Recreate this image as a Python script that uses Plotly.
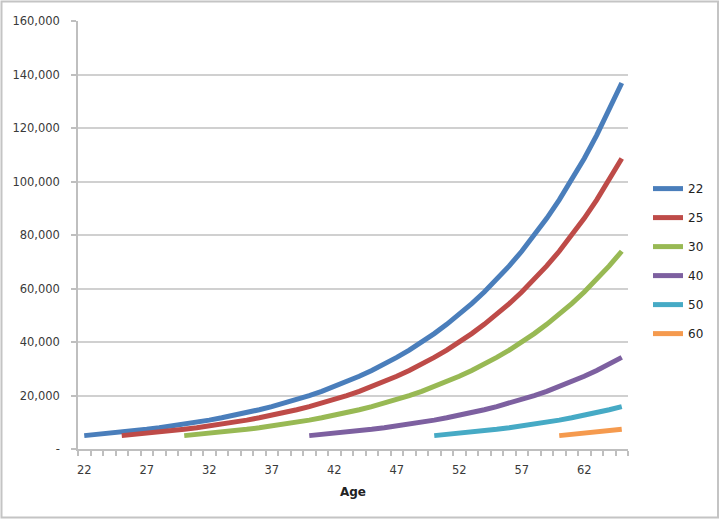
import plotly.graph_objects as go

AGES = [22, 23, 24, 25, 26, 27, 28, 29, 30, 31, 32, 33, 34, 35, 36, 37, 38, 39, 40, 41, 42, 43,
        44, 45, 46, 47, 48, 49, 50, 51, 52, 53, 54, 55, 56, 57, 58, 59, 60, 61, 62, 63, 64, 65]

START_22 = [5000, 5400, 5832, 6299, 6802, 7347, 7934, 8569, 9255, 9995, 10795, 11658, 12591,
            13598, 14686, 15861, 17130, 18500, 19980, 21579, 23305, 25169, 27183, 29357, 31706,
            34242, 36982, 39940, 43136, 46586, 50313, 54338, 58685, 63380, 68451, 73927, 79841,
            86228, 93126, 100576, 108623, 117312, 126697, 136833]
START_25 = [5000, 5400, 5832, 6299, 6802, 7347, 7934, 8569, 9255, 9995, 10795, 11658, 12591,
            13598, 14686, 15861, 17130, 18500, 19980, 21579, 23305, 25169, 27183, 29357, 31706,
            34242, 36982, 39940, 43136, 46586, 50313, 54338, 58685, 63380, 68451, 73927, 79841,
            86228, 93126, 100576, 108623]
START_30 = [5000, 5400, 5832, 6299, 6802, 7347, 7934, 8569, 9255, 9995, 10795, 11658, 12591,
            13598, 14686, 15861, 17130, 18500, 19980, 21579, 23305, 25169, 27183, 29357, 31706,
            34242, 36982, 39940, 43136, 46586, 50313, 54338, 58685, 63380, 68451, 73927]
START_40 = [5000, 5400, 5832, 6299, 6802, 7347, 7934, 8569, 9255, 9995, 10795, 11658, 12591,
            13598, 14686, 15861, 17130, 18500, 19980, 21579, 23305, 25169, 27183, 29357, 31706,
            34242]
START_50 = [5000, 5400, 5832, 6299, 6802, 7347, 7934, 8569, 9255, 9995, 10795, 11658, 12591,
            13598, 14686, 15861]
START_60 = [5000, 5400, 5832, 6299, 6802, 7347]

SERIES = [("22", 22, START_22, "#4A7EBB"),
          ("25", 25, START_25, "#BE4B48"),
          ("30", 30, START_30, "#98B954"),
          ("40", 40, START_40, "#7D60A0"),
          ("50", 50, START_50, "#46AAC5"),
          ("60", 60, START_60, "#F59A4E")]

X_TICKS = [22, 27, 32, 37, 42, 47, 52, 57, 62]
Y_TICKS = [0, 20000, 40000, 60000, 80000, 100000, 120000, 140000, 160000]
Y_TEXT = ["-", "20,000", "40,000", "60,000", "80,000", "100,000", "120,000", "140,000", "160,000"]

fig = go.Figure()
for i, (name, start, vals, color) in enumerate(SERIES):
    i0 = AGES.index(start)
    fig.add_trace(go.Scatter(x=AGES[i0:i0 + len(vals)], y=vals, name=name, mode="lines",
                             line=dict(color=color, width=5), legendgroup=name))

W, H = 720, 520
ML, MR, MT, MB = 78, 92, 21, 71
pw, ph = W - ML - MR, H - MT - MB
fig.update_layout(
    width=W, height=H,
    margin=dict(l=ML, r=MR, t=MT, b=MB, pad=0, autoexpand=False),
    paper_bgcolor="white", plot_bgcolor="white",
    font=dict(family="DejaVu Sans", size=11.5, color="#3A3A3A"),
    showlegend=True,
    legend=dict(x=(648 - ML) / pw, y=0.439, xanchor="left", yanchor="middle",
                font=dict(size=12, color="#222222"), tracegroupgap=10,
                bgcolor="rgba(0,0,0,0)", itemwidth=30),
    xaxis=dict(range=[21.5, 65.5], tickvals=X_TICKS, ticktext=[str(v) for v in X_TICKS],
               ticks="", showgrid=False, zeroline=False, showline=True, automargin=False,
               linecolor="#BFBFBF", linewidth=1.5,
               minor=dict(tick0=21.5, dtick=1, ticks="outside", ticklen=5,
                          tickcolor="#BFBFBF", tickwidth=1.5, showgrid=False),
               title=dict(text="<b>Age</b>", font=dict(size=12, color="#222222"), standoff=12),
               ticklabelstandoff=9),
    yaxis=dict(range=[0, 160000], tickvals=Y_TICKS, ticktext=Y_TEXT, automargin=False,
               ticks="outside", ticklen=5, tickcolor="#BFBFBF", tickwidth=1.5,
               showgrid=True, gridcolor="#D0D0D0", gridwidth=1.5,
               zeroline=False, showline=True, linecolor="#BFBFBF", linewidth=1.5,
               ticklabelstandoff=9),
)
fig.add_shape(type="rect", xref="paper", yref="paper",
              x0=(1.5 - ML) / pw, x1=(W - 2 - ML) / pw,
              y0=-(MB - 2.5) / ph, y1=1 + (MT - 1.5) / ph,
              line=dict(color="#C4C4C4", width=2), fillcolor="rgba(0,0,0,0)", layer="below")
fig.write_html("out.html", config={"displayModeBar": False},
               post_script="document.body.style.margin='0';document.body.style.overflow='hidden';")
